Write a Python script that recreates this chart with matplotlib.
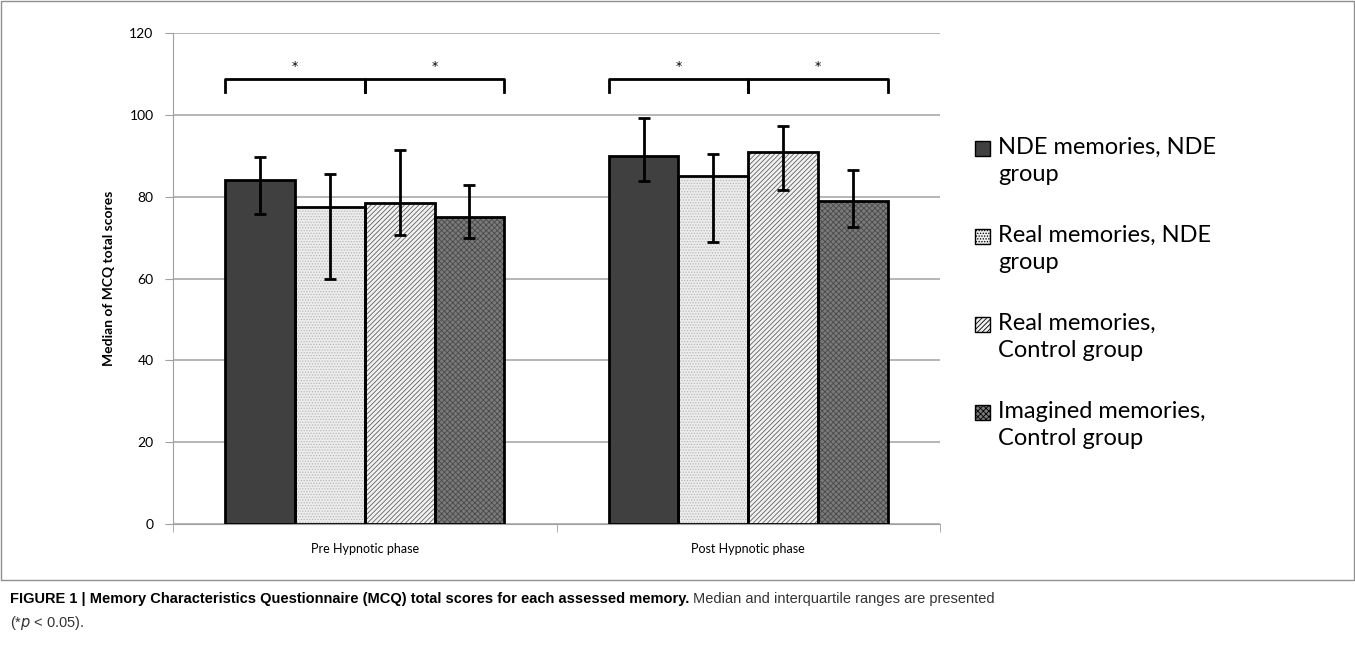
import numpy as np
import matplotlib.pyplot as plt
from matplotlib.patches import Rectangle

# ---------------------------- data ----------------------------
phases = ["Pre Hypnotic phase", "Post Hypnotic phase"]
series = ["NDE memories, NDE\ngroup", "Real memories, NDE\ngroup",
          "Real memories,\nControl group", "Imagined memories,\nControl group"]
medians = [[84, 77.5, 78.5, 75],
           [90, 85, 91, 79]]
q_low = [[75.8, 60, 70.7, 69.8],
         [83.8, 68.8, 81.7, 72.5]]
q_high = [[89.7, 85.5, 91.5, 82.8],
          [99.2, 90.5, 97.2, 86.5]]
# significance brackets: (phase, bar from, bar to)
sig_pairs = [(0, 0, 2), (0, 2, 3), (1, 0, 2), (1, 2, 3)]

# ---------------------------- style ----------------------------
faces = ["#404040", "#ececec", "#f2f2f2", "#7a7a7a"]
hatches = [None, "......", "///////", "xxxxxx"]
hatch_cols = ["#404040", "#b8b8b8", "#606060", "#4a4a4a"]
font_main = ["Lato", "DejaVu Sans"]
plt.rcParams['hatch.linewidth'] = 0.6

W, H = 1355, 654
fig = plt.figure(figsize=(13.55, 6.54), dpi=100)
ax = fig.add_axes([173 / W, 1 - 524 / H, (940 - 173) / W, (524 - 33) / H])

bw = 0.182
x = np.arange(len(phases))
for s in range(len(series)):
    pos = x - 1.5 * bw + s * bw
    vals = [medians[p][s] for p in range(len(phases))]
    lo = [medians[p][s] - q_low[p][s] for p in range(len(phases))]
    hi = [q_high[p][s] - medians[p][s] for p in range(len(phases))]
    ax.bar(pos, vals, bw, color=faces[s], edgecolor=hatch_cols[s],
           hatch=hatches[s], linewidth=0, zorder=2)
    ax.bar(pos, vals, bw, fill=False, edgecolor="black", linewidth=2, zorder=3)
    ax.errorbar(pos, vals, yerr=[lo, hi], fmt="none", ecolor="black",
                elinewidth=2, capsize=4, capthick=2, zorder=4)

# brackets with asterisks
for p, a, b in sig_pairs:
    left = x[p] - 2 * bw
    xa = left + a * bw
    xb = left + (b + 1) * bw if b == 3 else left + b * bw
    ax.plot([xa, xa, xb, xb], [105.6, 108.8, 108.8, 105.6], color="black", lw=2,
            zorder=4, clip_on=False)
    ax.text((xa + xb) / 2, 110.2, "*", ha="center", va="bottom", fontsize=9)

ax.set_ylim(0, 120)
ax.set_xlim(-0.5, 1.5)
ax.set_yticks(range(0, 121, 20))
ax.yaxis.grid(True, color="#b0b0b0", lw=1.3)
ax.set_axisbelow(True)
ax.set_xticks(x)
ax.set_xticklabels(phases, fontsize=9, family=font_main)
ax.set_xticks([-0.5, 0.5, 1.5], minor=True)
ax.tick_params(axis="x", which="major", length=0, pad=14)
ax.tick_params(axis="x", which="minor", length=6, color="#a0a0a0")
ax.tick_params(axis="y", length=6, color="#a0a0a0", labelsize=10, pad=8)
for lab in ax.get_yticklabels():
    lab.set_family(font_main)
for side in ["top", "right"]:
    ax.spines[side].set_visible(False)
for side in ["left", "bottom"]:
    ax.spines[side].set_color("#a0a0a0")
ax.set_ylabel("Median of MCQ total scores", fontsize=10, fontweight="bold",
              family=font_main, labelpad=10)

# legend drawn by hand: square beside the first line of each label
for s in range(len(series)):
    yc = 148 + s * 88
    fig.patches.append(Rectangle((975 / W, 1 - (yc + 8) / H), 15 / W, 15 / H,
                                 transform=fig.transFigure, facecolor=faces[s],
                                 edgecolor="black", hatch=hatches[s], lw=1))
    fig.text(998 / W, 1 - (yc - 11) / H, series[s], fontsize=17, family=font_main,
             va="top", ha="left", linespacing=1.35)

# frame around chart
fig.patches.append(Rectangle((0.001, 1 - 580 / H), 0.998, 580 / H - 0.001,
                             transform=fig.transFigure, fill=False,
                             edgecolor="#909090", lw=1))

cap_font = ["Liberation Sans", "DejaVu Sans"]
t1 = fig.text(10 / W, 1 - 603 / H,
              "FIGURE 1 | Memory Characteristics Questionnaire (MCQ) total scores for each assessed memory.",
              fontsize=10.5, fontweight="bold", family=cap_font, va="baseline")
fig.canvas.draw()
bb = t1.get_window_extent()
fig.text((bb.x1 + 4) / W, 1 - 603 / H,
         "Median and interquartile ranges are presented",
         fontsize=10.5, family=cap_font, va="baseline", color="#333333")
fig.text(10 / W, 1 - 627 / H, r"(*$p$ < 0.05).",
         fontsize=10.5, family=cap_font, va="baseline", color="#333333")

fig.savefig("out.png", dpi=100)
